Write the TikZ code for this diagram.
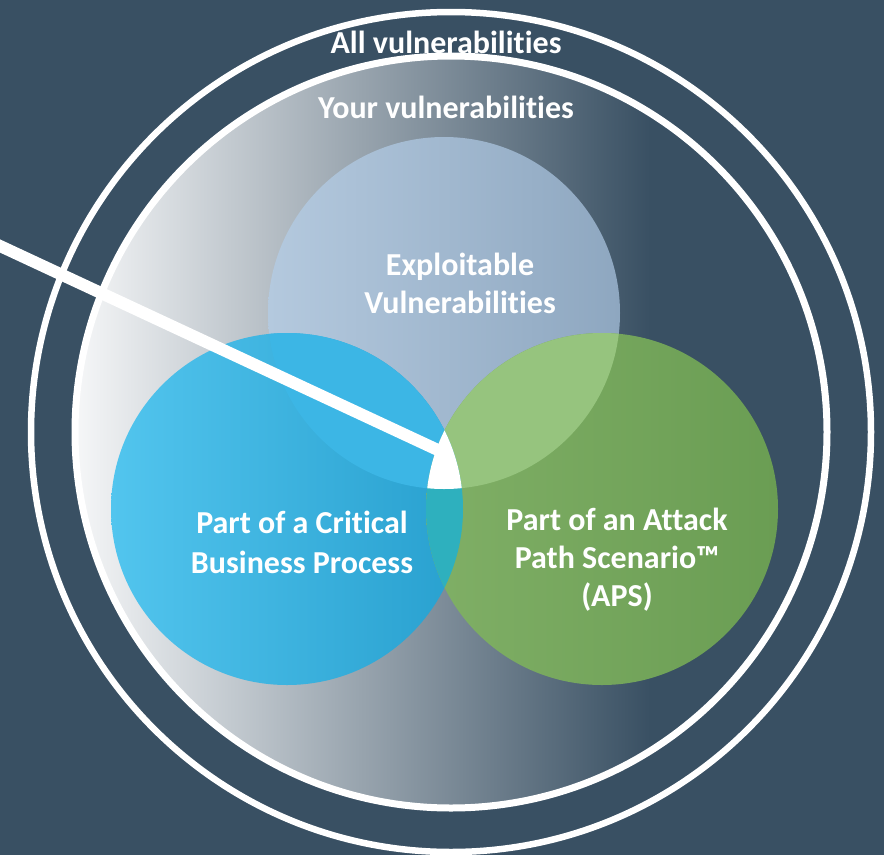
\documentclass[tikz,border=0pt]{standalone}
\usepackage{fontspec}
\setmainfont{Carlito}[Ligatures={NoCommon}]
\definecolor{bg}{RGB}{57,80,99}
\definecolor{inL}{RGB}{246,247,248}
\definecolor{topL}{RGB}{180,201,222}
\definecolor{topR}{RGB}{142,167,192}
\definecolor{blueL}{RGB}{82,197,238}
\definecolor{blueR}{RGB}{40,160,207}
\definecolor{greenL}{RGB}{128,175,102}
\definecolor{greenR}{RGB}{106,157,83}
\definecolor{topblue}{RGB}{60,182,229}
\definecolor{topgreen}{RGB}{150,196,126}
\definecolor{bluegreen}{RGB}{46,176,190}
\tikzset{
  lbl/.style={text=white, font=\fontsize{32}{38}\selectfont\bfseries, anchor=base, inner sep=0pt},
  ring/.style={draw=white, line width=7pt},
}
\begin{document}
\begin{tikzpicture}[x=1pt,y=-1pt]
\useasboundingbox (0,0) rectangle (884,855);
\fill[bg] (0,0) rectangle (884,855);
\coordinate (C) at (451,432);
\coordinate (T) at (444,313);
\coordinate (B) at (287,509);
\coordinate (G) at (602,509);
% inner gradient disc
\begin{scope}
  \clip (C) circle (376pt);
  \shade[left color=inL, right color=bg] (74,50) rectangle (650,815);
  \fill[bg] (649,50) rectangle (832,815);
\end{scope}
% three circles
\shade[left color=topL, right color=topR] (T) circle (176pt);
\shade[left color=blueL, right color=blueR] (B) circle (176pt);
\shade[left color=greenL, right color=greenR] (G) circle (176pt);
% overlaps
\begin{scope}
  \clip (T) circle (176pt);
  \fill[topblue] (B) circle (176pt);
  \fill[topgreen] (G) circle (176pt);
\end{scope}
\begin{scope}
  \clip (B) circle (176pt);
  \fill[bluegreen] (G) circle (176pt);
\end{scope}
\begin{scope}
  \clip (T) circle (176pt);
  \clip (B) circle (176pt);
  \fill[white] (G) circle (176pt);
\end{scope}
% rings
\draw[ring] (C) circle (376pt);
\draw[ring, line width=6.5pt] (C) circle (420pt);
% pointer line
\coordinate (ptrstart) at (-10,241.3);
\coordinate (ptrend) at (440,451);
\draw[white, line width=12pt] (ptrstart) -- (ptrend);
% labels
\node[lbl] (allv) at (446,53) {All vulnerabilities};
\node[lbl] (yourv) at (446,118) {Your vulnerabilities};
\node[lbl] (expl1) at (460,275) {Exploitable};
\node[lbl] (expl2) at (460,313) {Vulnerabilities};
\node[lbl] (crit1) at (302,533) {Part of a Critical};
\node[lbl] (crit2) at (302,573) {Business Process};
\node[lbl] (aps1) at (617,530) {Part of an Attack};
\node[lbl] (aps2) at (617,568) {Path Scenario™};
\node[lbl] (aps3) at (617,606) {(APS)};
\end{tikzpicture}
\end{document}
